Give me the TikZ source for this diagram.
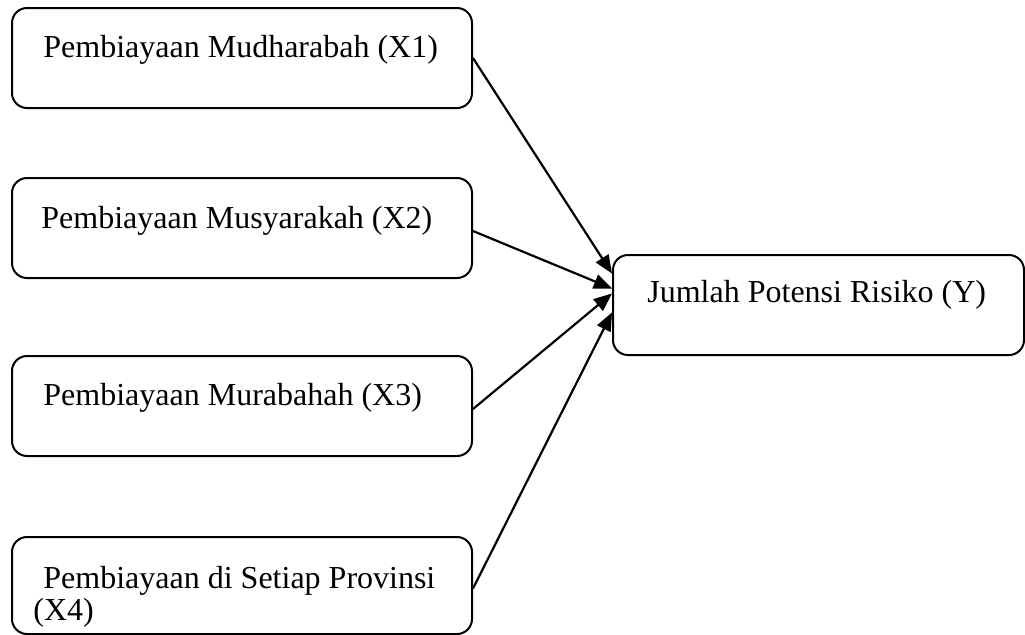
\documentclass[tikz,border=0pt]{standalone}
\usepackage{fontspec}
\setmainfont{Liberation Serif}
\usetikzlibrary{arrows,calc}

\tikzset{
	kotak/.style={draw,line width=1pt,rounded corners=7.5pt,minimum width=230pt,minimum height=50pt,inner sep=0pt,anchor=north west},
	teks/.style={anchor=base west,inner sep=0pt,align=left,font=\fontsize{16}{16}\selectfont},
	panah/.style={->,>=triangle 45,line width=1.1pt}
}

\begin{document}
\begin{tikzpicture}[x=0.5pt,y=-0.5pt]
		\useasboundingbox (0,0) rectangle (1025,634);
		% variabel X
		\node[kotak] (x1) at (11,7) {};
		\node[kotak] (x2) at (11,177) {};
		\node[kotak] (x3) at (11,355) {};
		\node[kotak,minimum height=48.5pt] (x4) at (11,536) {};
		% variabel Y
		\node[kotak,minimum width=205.5pt] (y) at (612,254) {};
		% teks
		\node[teks] (tx1) at ($(x1.north west)+(32,50)$) {Pembiayaan Mudharabah (X1)};
		\node[teks] (tx2) at ($(x2.north west)+(30,51)$) {Pembiayaan Musyarakah (X2)};
		\node[teks] (tx3) at ($(x3.north west)+(32,50)$) {Pembiayaan Murabahah (X3)};
		\node[teks] (tx4) at ($(x4.north west)+(22,84)$) {\hspace{5pt}Pembiayaan di Setiap Provinsi\\(X4)};
		\node[teks] (ty) at ($(y.north west)+(35,48)$) {Jumlah Potensi Risiko (Y)};
		% panah
		\draw[panah] (x1.east) -- ($(y.west)+(0,-31.5)$);
		\draw[panah] ($(x2.east)+(0,3)$) -- ($(y.west)+(0,-16.5)$);
		\draw[panah] ($(x3.east)+(0,3)$) -- ($(y.west)+(0,-11.5)$);
		\draw[panah] ($(x4.east)+(0,3)$) -- ($(y.west)+(0,7.5)$);
\end{tikzpicture}
\end{document}
